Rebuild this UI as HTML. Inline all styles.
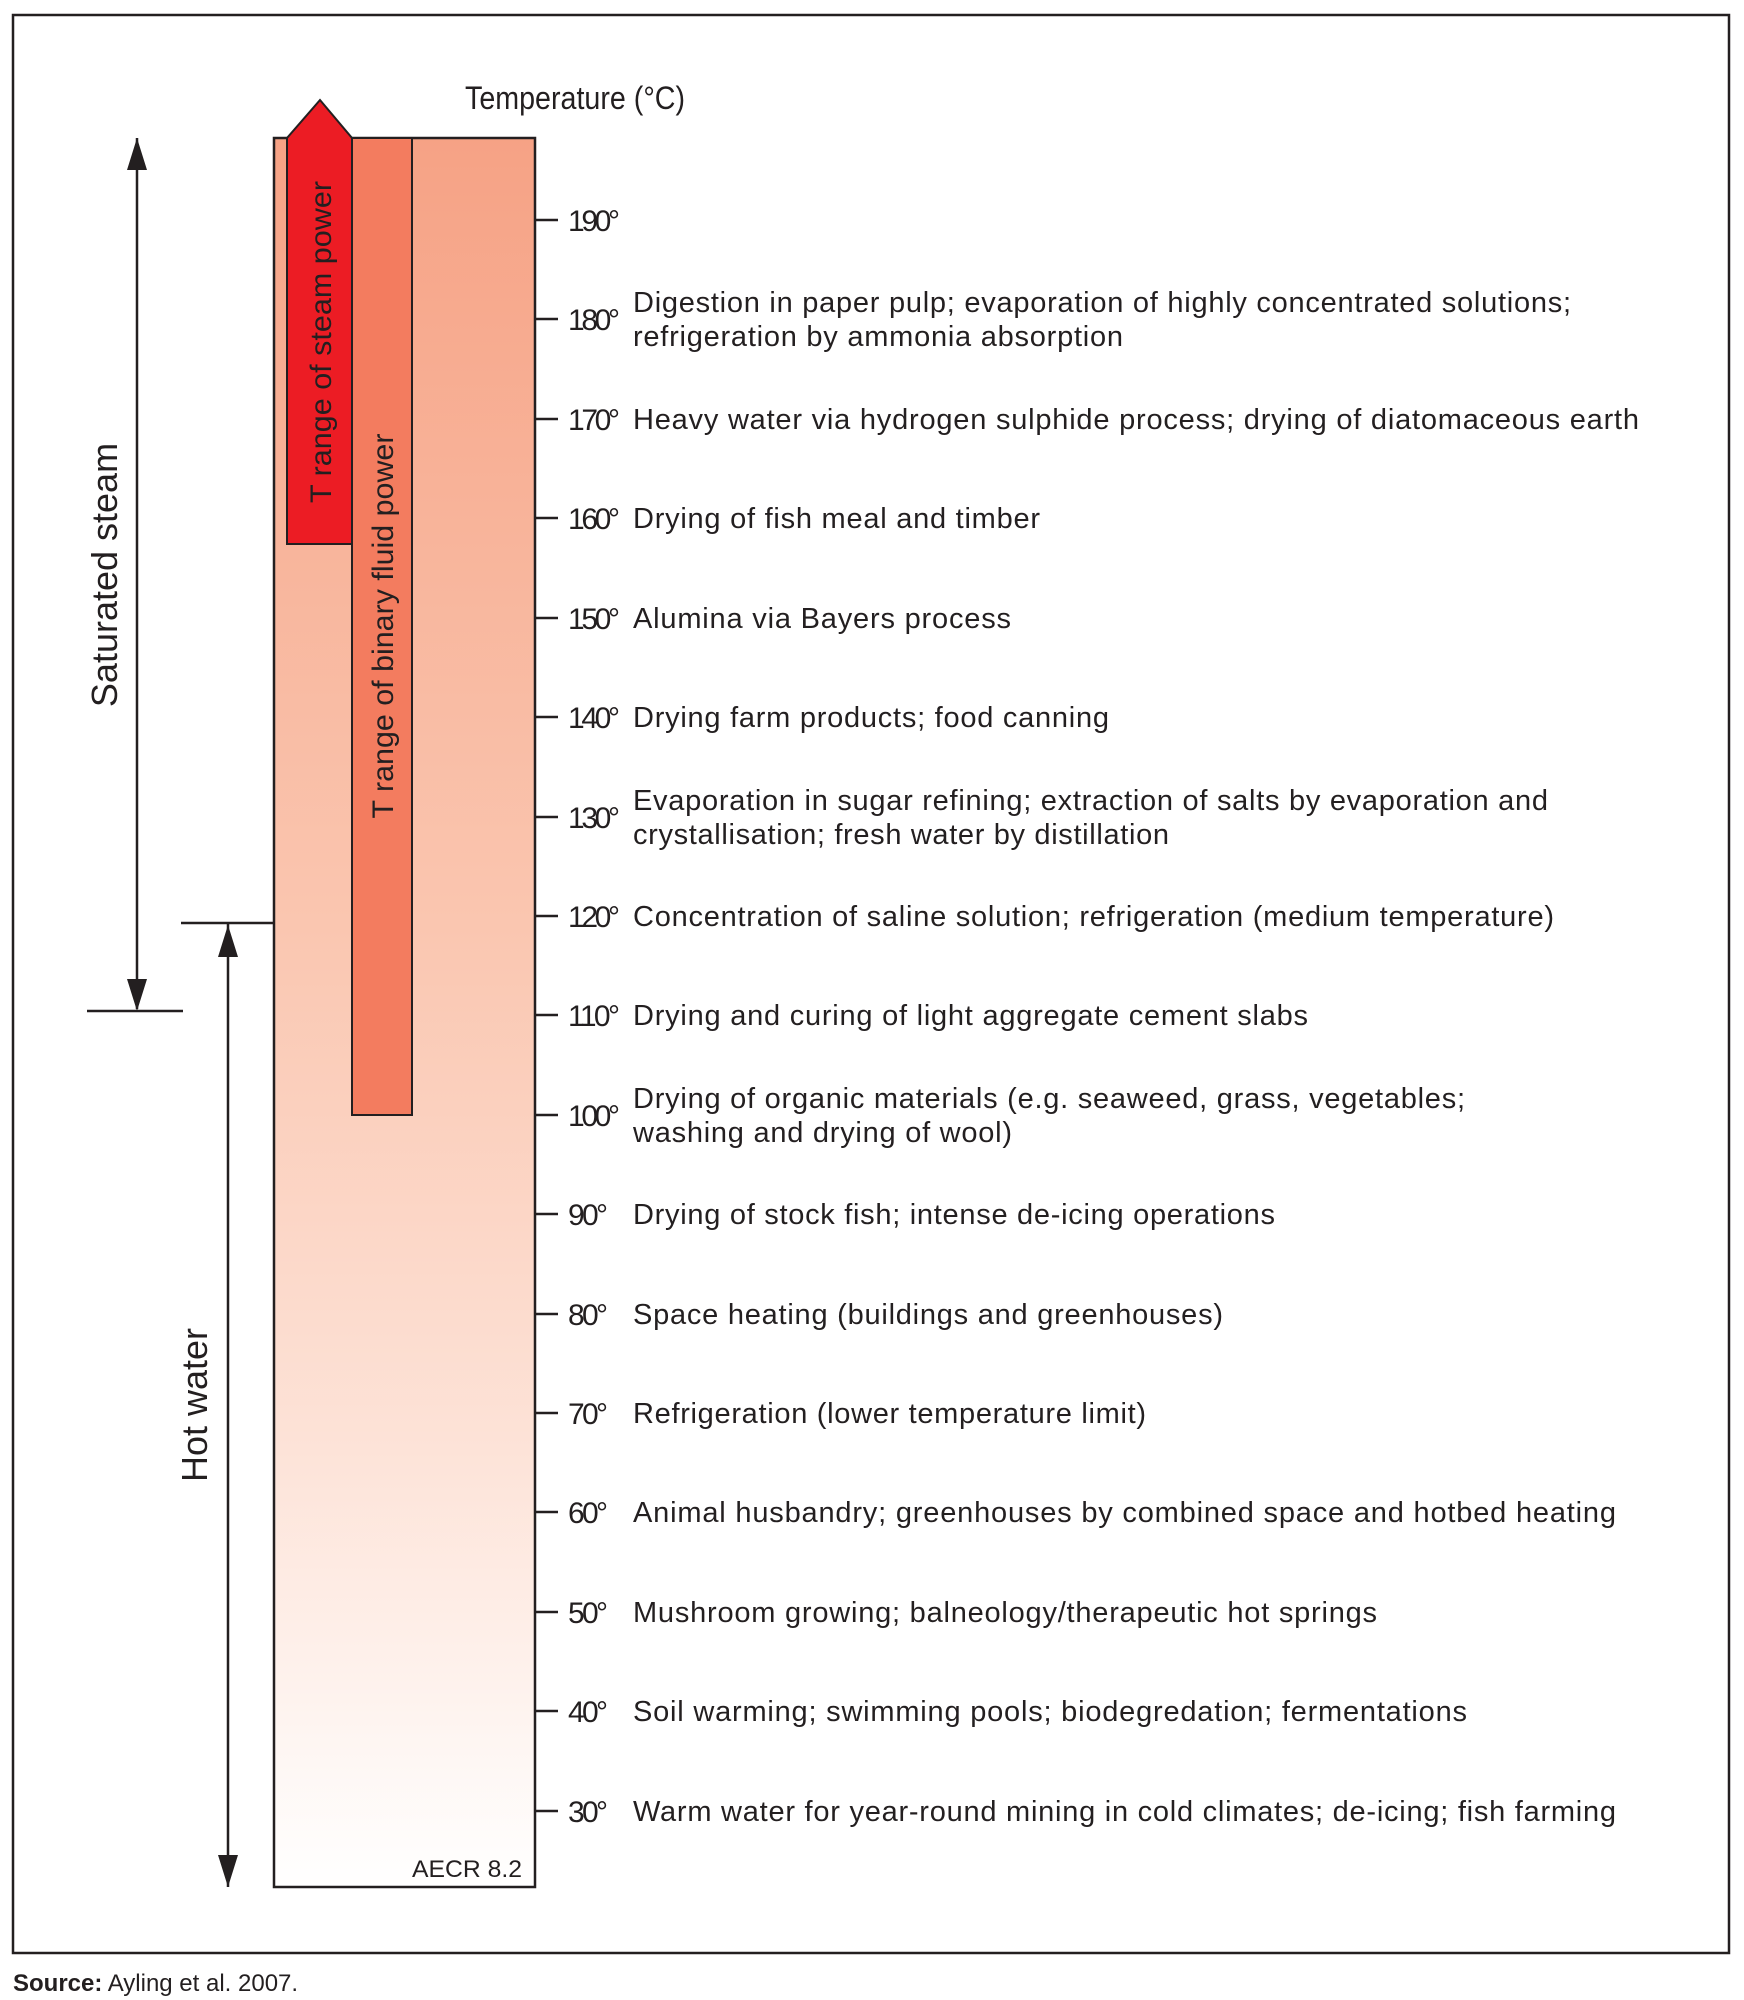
<!DOCTYPE html>
<html><head><meta charset="utf-8"><style>html,body{margin:0;padding:0;background:#fff}svg{display:block}</style></head>
<body>
<svg width="1744" height="2000" viewBox="0 0 1744 2000" xmlns="http://www.w3.org/2000/svg" font-family="'Liberation Sans', sans-serif">
<defs>
<linearGradient id="g" x1="0" y1="0" x2="0" y2="1">
<stop offset="0" stop-color="#f6a285"/>
<stop offset="0.45" stop-color="#fac6b0"/>
<stop offset="0.75" stop-color="#fde3d8"/>
<stop offset="1" stop-color="#ffffff"/>
</linearGradient>
</defs>
<rect x="13" y="15" width="1716" height="1938" fill="none" stroke="#231f20" stroke-width="2.5"/>
<rect x="274" y="138" width="261" height="1749" fill="url(#g)" stroke="#231f20" stroke-width="2.5"/>
<rect x="352" y="138" width="60" height="977" fill="#f37c5f" stroke="#231f20" stroke-width="2"/>
<path d="M287,544 L287,138 L320,100 L352,138 L352,544 Z" fill="#ec1c24" stroke="#231f20" stroke-width="2"/>
<text transform="translate(331,342) rotate(-90)" text-anchor="middle" font-size="30" fill="#231f20" textLength="322" lengthAdjust="spacingAndGlyphs">T range of steam power</text>
<text transform="translate(393,626) rotate(-90)" text-anchor="middle" font-size="30" fill="#231f20" textLength="385" lengthAdjust="spacingAndGlyphs">T range of binary fluid power</text>
<g stroke="#231f20" stroke-width="2.5">
<line x1="137" y1="1009" x2="137" y2="138"/>
<line x1="87" y1="1011" x2="183" y2="1011"/>
<line x1="228" y1="1887" x2="228" y2="924"/>
<line x1="181" y1="923" x2="274" y2="923"/>
</g>
<path d="M137,138 L127,170 L147,170Z" fill="#231f20"/>
<path d="M137,1011 L127,979 L147,979Z" fill="#231f20"/>
<path d="M228,925 L218,957 L238,957Z" fill="#231f20"/>
<path d="M228,1887 L218,1855 L238,1855Z" fill="#231f20"/>
<text transform="translate(117,575) rotate(-90)" text-anchor="middle" font-size="36" fill="#231f20">Saturated steam</text>
<text transform="translate(207,1405) rotate(-90)" text-anchor="middle" font-size="36" fill="#231f20">Hot water</text>
<text x="465" y="109" font-size="32" fill="#231f20" textLength="220" lengthAdjust="spacingAndGlyphs">Temperature (°C)</text>
<text x="522" y="1877" text-anchor="end" font-size="24" fill="#231f20" textLength="110" lengthAdjust="spacingAndGlyphs">AECR  8.2</text>
<g stroke="#231f20" stroke-width="2.5">
<line x1="535" y1="220" x2="558" y2="220"/><line x1="535" y1="319" x2="558" y2="319"/>
<line x1="535" y1="419" x2="558" y2="419"/><line x1="535" y1="518" x2="558" y2="518"/>
<line x1="535" y1="618" x2="558" y2="618"/><line x1="535" y1="717" x2="558" y2="717"/>
<line x1="535" y1="817" x2="558" y2="817"/><line x1="535" y1="916" x2="558" y2="916"/>
<line x1="535" y1="1015" x2="558" y2="1015"/><line x1="535" y1="1115" x2="558" y2="1115"/>
<line x1="535" y1="1214" x2="558" y2="1214"/><line x1="535" y1="1314" x2="558" y2="1314"/>
<line x1="535" y1="1413" x2="558" y2="1413"/><line x1="535" y1="1512" x2="558" y2="1512"/>
<line x1="535" y1="1612" x2="558" y2="1612"/><line x1="535" y1="1711" x2="558" y2="1711"/>
<line x1="535" y1="1811" x2="558" y2="1811"/>
</g>
<g font-size="30" fill="#231f20" lengthAdjust="spacingAndGlyphs">
<text x="568" y="231" textLength="52">190°</text>
<text x="568" y="330" textLength="52">180°</text>
<text x="568" y="430" textLength="52">170°</text>
<text x="568" y="529" textLength="52">160°</text>
<text x="568" y="629" textLength="52">150°</text>
<text x="568" y="728" textLength="52">140°</text>
<text x="568" y="828" textLength="52">130°</text>
<text x="568" y="927" textLength="52">120°</text>
<text x="568" y="1026" textLength="52">110°</text>
<text x="568" y="1126" textLength="52">100°</text>
<text x="568" y="1225" textLength="40">90°</text>
<text x="568" y="1325" textLength="40">80°</text>
<text x="568" y="1424" textLength="40">70°</text>
<text x="568" y="1523" textLength="40">60°</text>
<text x="568" y="1623" textLength="40">50°</text>
<text x="568" y="1722" textLength="40">40°</text>
<text x="568" y="1822" textLength="40">30°</text>
</g>
<g font-size="29" fill="#231f20" lengthAdjust="spacingAndGlyphs">
<text x="633" y="312" textLength="938">Digestion in paper pulp; evaporation of highly concentrated solutions;</text>
<text x="633" y="346" textLength="490">refrigeration by ammonia absorption</text>
<text x="633" y="429" textLength="1006">Heavy water via hydrogen sulphide process; drying of diatomaceous earth</text>
<text x="633" y="528" textLength="407">Drying of fish meal and timber</text>
<text x="633" y="628" textLength="378">Alumina via Bayers process</text>
<text x="633" y="727" textLength="476">Drying farm products; food canning</text>
<text x="633" y="810" textLength="915">Evaporation in sugar refining; extraction of salts by evaporation and</text>
<text x="633" y="844" textLength="536">crystallisation; fresh water by distillation</text>
<text x="633" y="926" textLength="921">Concentration of saline solution; refrigeration (medium temperature)</text>
<text x="633" y="1025" textLength="675">Drying and curing of light aggregate cement slabs</text>
<text x="633" y="1108" textLength="832">Drying of organic materials (e.g. seaweed, grass, vegetables;</text>
<text x="633" y="1142" textLength="379">washing and drying of wool)</text>
<text x="633" y="1224" textLength="642">Drying of stock fish; intense de-icing operations</text>
<text x="633" y="1324" textLength="590">Space heating (buildings and greenhouses)</text>
<text x="633" y="1423" textLength="513">Refrigeration (lower temperature limit)</text>
<text x="633" y="1522" textLength="983">Animal husbandry; greenhouses by combined space and hotbed heating</text>
<text x="633" y="1622" textLength="744">Mushroom growing; balneology/therapeutic hot springs</text>
<text x="633" y="1721" textLength="834">Soil warming; swimming pools; biodegredation; fermentations</text>
<text x="633" y="1821" textLength="983">Warm water for year-round mining in cold climates; de-icing; fish farming</text>
</g>
<text x="13" y="1991" font-size="24" fill="#231f20"><tspan font-weight="bold">Source:</tspan> Ayling et al. 2007.</text>
</svg>
</body></html>
